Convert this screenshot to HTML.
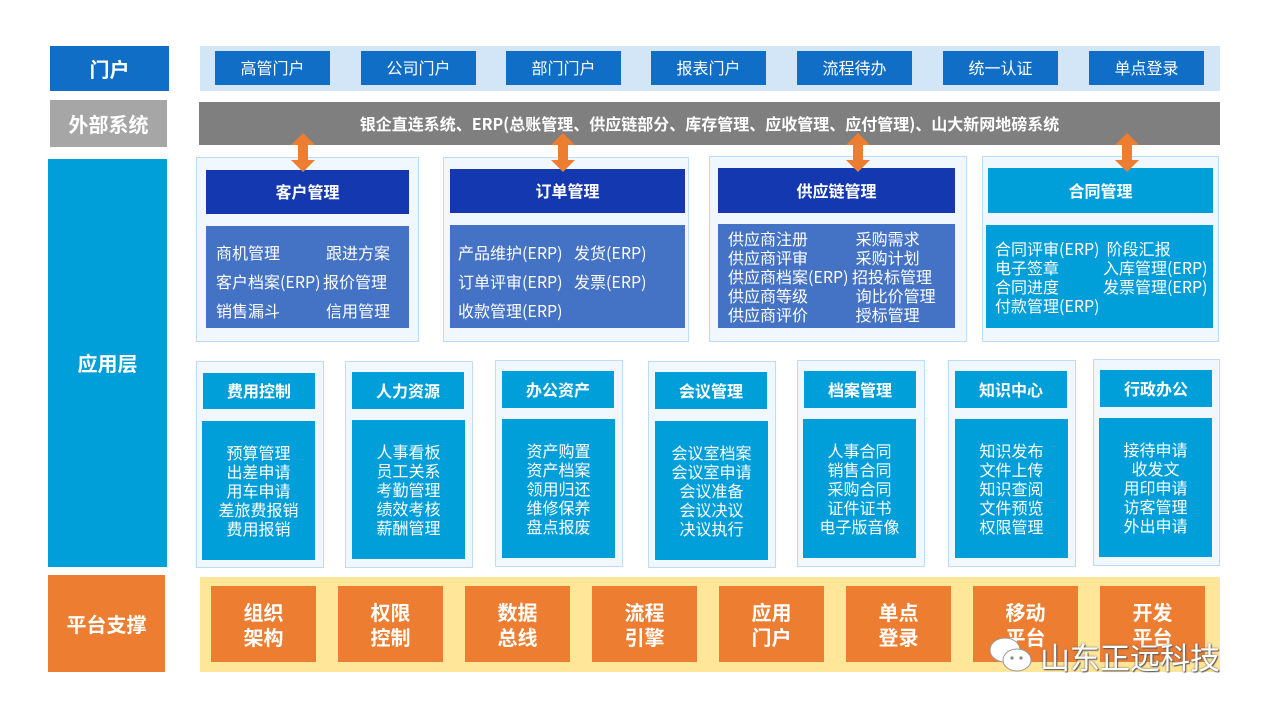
<!DOCTYPE html>
<html><head><meta charset="utf-8"><style>
*{margin:0;padding:0;box-sizing:border-box}
body{width:1266px;height:713px;background:#fff;position:relative;overflow:hidden;font-family:"Noto Sans CJK SC","Liberation Sans",sans-serif;color:#fff;line-height:1.2}
.a{position:absolute}
.c{display:flex;align-items:center;justify-content:center;text-align:center}
.lab{font-size:20px;font-weight:bold}
.pb{background:#106ec6;font-size:16px;top:51px;width:115px;height:34px}
.fr{background:#f1f7fe;border:1.5px solid #bcdcf8}
.hd{font-size:16px;font-weight:bold}
.dk{background:#1438b0}
.bl{background:#4472c4}
.cy{background:#009fd9}
.t{font-size:16px;white-space:nowrap;line-height:19px}
.sm{flex-direction:column;font-size:16px;line-height:19px}
.or{background:#ed7d31;font-size:20px;font-weight:bold;line-height:25px;top:586px;width:105px;height:76px}
</style></head><body>
<div class="a c lab" style="left:50px;top:46px;width:119px;height:45px;background:#106ec6">门户</div>
<div class="a c lab" style="left:50px;top:100px;width:117px;height:47px;background:#a6a6a6">外部系统</div>
<div class="a c lab" style="left:48px;top:159px;width:119px;height:408px;background:#009fd9">应用层</div>
<div class="a c lab" style="left:48px;top:575px;width:117px;height:97px;background:#ed7d31">平台支撑</div>

<div class="a" style="left:200px;top:46px;width:1020px;height:45px;background:#d3e6f8"></div>
<div class="a c pb" style="left:215px">高管门户</div>
<div class="a c pb" style="left:361px">公司门户</div>
<div class="a c pb" style="left:506px">部门门户</div>
<div class="a c pb" style="left:651px">报表门户</div>
<div class="a c pb" style="left:797px">流程待办</div>
<div class="a c pb" style="left:943px">统一认证</div>
<div class="a c pb" style="left:1089px">单点登录</div>

<div class="a c" style="left:199px;top:102px;width:1021px;height:43px;background:#7f7f7f;font-size:16px;font-weight:bold">银企直连系统、ERP(总账管理、供应链部分、库存管理、应收管理、应付管理)、山大新网地磅系统</div>

<div class="a fr" style="left:196px;top:157px;width:223px;height:185px"></div>
<div class="a c hd dk" style="left:206px;top:170px;width:203px;height:44px">客户管理</div>
<div class="a bl" style="left:206px;top:226px;width:203px;height:102px"></div>
<div class="a t" style="left:216px;top:243px">商机管理</div><div class="a t" style="left:326px;top:243px">跟进方案</div>
<div class="a t" style="left:216px;top:272px">客户档案(ERP)</div><div class="a t" style="left:323px;top:272px">报价管理</div>
<div class="a t" style="left:216px;top:301px">销售漏斗</div><div class="a t" style="left:326px;top:301px">信用管理</div>

<div class="a fr" style="left:443px;top:157px;width:246px;height:185px"></div>
<div class="a c hd dk" style="left:450px;top:169px;width:235px;height:44px">订单管理</div>
<div class="a bl" style="left:450px;top:225px;width:235px;height:103px"></div>
<div class="a t" style="left:458px;top:243px">产品维护(ERP)</div><div class="a t" style="left:574px;top:243px">发货(ERP)</div>
<div class="a t" style="left:458px;top:272px">订单评审(ERP)</div><div class="a t" style="left:574px;top:272px">发票(ERP)</div>
<div class="a t" style="left:458px;top:301px">收款管理(ERP)</div>

<div class="a fr" style="left:709px;top:156px;width:258px;height:186px"></div>
<div class="a c hd dk" style="left:718px;top:168px;width:237px;height:45px">供应链管理</div>
<div class="a bl" style="left:718px;top:224px;width:237px;height:104px"></div>
<div class="a t" style="left:728px;top:229px">供应商注册<br>供应商评审<br>供应商档案(ERP)<br>供应商等级<br>供应商评价</div>
<div class="a t" style="left:852px;top:229px">&nbsp;采购需求<br>&nbsp;采购计划<br>招投标管理<br>&nbsp;询比价管理<br>&nbsp;授标管理</div>

<div class="a fr" style="left:982px;top:156px;width:237px;height:186px"></div>
<div class="a c hd cy" style="left:988px;top:168px;width:225px;height:45px">合同管理</div>
<div class="a cy" style="left:986px;top:225px;width:227px;height:103px"></div>
<div class="a t" style="left:995px;top:239px">合同评审(ERP)<br>电子签章<br>合同进度<br>付款管理(ERP)</div>
<div class="a t" style="left:1103px;top:239px">&nbsp;阶段汇报<br>入库管理(ERP)<br>发票管理(ERP)</div>

<svg class="a" style="left:0;top:0" width="1266" height="713">
<g fill="#ed7d31">
<path id="ar" d="M303 133 L315 145 L308 145 L308 160 L315 160 L303 172 L291 160 L298 160 L298 145 L291 145 Z"/>
<use href="#ar" x="260"/><use href="#ar" x="555"/><use href="#ar" x="824"/>
</g></svg>

<div class="a fr" style="left:196px;top:361px;width:128px;height:207px"></div>
<div class="a c hd cy" style="left:203px;top:373px;width:112px;height:36px">费用控制</div>
<div class="a c sm cy" style="left:202px;top:421px;width:113px;height:139px">预算管理<br>出差申请<br>用车申请<br>差旅费报销<br>费用报销</div>

<div class="a fr" style="left:345px;top:361px;width:128px;height:207px"></div>
<div class="a c hd cy" style="left:352px;top:372px;width:112px;height:37px">人力资源</div>
<div class="a c sm cy" style="left:352px;top:420px;width:113px;height:139px">人事看板<br>员工关系<br>考勤管理<br>绩效考核<br>薪酬管理</div>

<div class="a fr" style="left:495px;top:360px;width:128px;height:207px"></div>
<div class="a c hd cy" style="left:502px;top:371px;width:112px;height:37px">办公资产</div>
<div class="a c sm cy" style="left:502px;top:419px;width:113px;height:139px">资产购置<br>资产档案<br>领用归还<br>维修保养<br>盘点报废</div>

<div class="a fr" style="left:648px;top:361px;width:128px;height:207px"></div>
<div class="a c hd cy" style="left:655px;top:372px;width:112px;height:37px">会议管理</div>
<div class="a c sm cy" style="left:655px;top:421px;width:113px;height:139px">会议室档案<br>会议室申请<br>会议准备<br>会议决议<br>决议执行</div>

<div class="a fr" style="left:797px;top:360px;width:128px;height:207px"></div>
<div class="a c hd cy" style="left:804px;top:371px;width:112px;height:37px">档案管理</div>
<div class="a c sm cy" style="left:803px;top:419px;width:113px;height:139px">人事合同<br>销售合同<br>采购合同<br>证件证书<br>电子版音像</div>

<div class="a fr" style="left:948px;top:360px;width:128px;height:207px"></div>
<div class="a c hd cy" style="left:955px;top:371px;width:112px;height:37px">知识中心</div>
<div class="a c sm cy" style="left:955px;top:419px;width:113px;height:139px">知识发布<br>文件上传<br>知识查阅<br>文件预览<br>权限管理</div>

<div class="a fr" style="left:1093px;top:359px;width:127px;height:207px"></div>
<div class="a c hd cy" style="left:1100px;top:370px;width:112px;height:37px">行政办公</div>
<div class="a c sm cy" style="left:1099px;top:418px;width:113px;height:139px">接待申请<br>收发文<br>用印申请<br>访客管理<br>外出申请</div>

<div class="a" style="left:200px;top:577px;width:1020px;height:95px;background:#ffe699"></div>
<div class="a c or" style="left:211px">组织<br>架构</div>
<div class="a c or" style="left:338px">权限<br>控制</div>
<div class="a c or" style="left:465px">数据<br>总线</div>
<div class="a c or" style="left:592px">流程<br>引擎</div>
<div class="a c or" style="left:719px">应用<br>门户</div>
<div class="a c or" style="left:846px">单点<br>登录</div>
<div class="a c or" style="left:973px">移动<br>平台</div>
<div class="a c or" style="left:1100px">开发<br>平台</div>

<svg class="a" style="left:985px;top:634px" width="52" height="44">
<ellipse cx="20" cy="16" rx="15" ry="12" fill="#fff" stroke="#999" stroke-width="1"/>
<ellipse cx="32" cy="26" rx="14" ry="11" fill="#fff" stroke="#999" stroke-width="1"/>
<circle cx="27" cy="24" r="1.6" fill="#888"/><circle cx="36" cy="24" r="1.6" fill="#888"/>
</svg>
<div class="a" style="left:1040px;top:636px;font-size:30px;line-height:40px;color:#fff;text-shadow:0 0 2px #666,1px 1px 1px #555;white-space:nowrap">山东正远科技</div>
</body></html>
